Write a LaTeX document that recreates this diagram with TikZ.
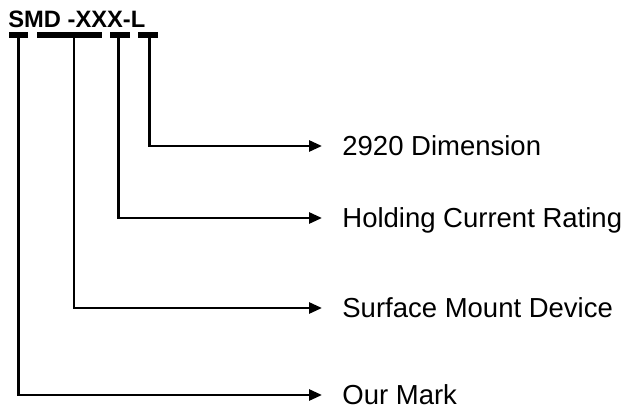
\documentclass[tikz,border=0pt]{standalone}
\usepackage{fontspec}
\setmainfont{Liberation Sans}
\usetikzlibrary{arrows.meta, positioning}

\begin{document}
\begin{tikzpicture}[
    x=0.5pt, y=-0.5pt,
    segmento/.style={rectangle, fill=black, inner sep=0pt, minimum height=2.9pt},
    rotulo/.style={anchor=west, inner sep=0pt, font=\fontsize{13.75}{16}\selectfont, text height=9.85pt, text depth=0pt},
    guia/.style={-{Triangle[length=6.5pt, width=5.5pt]}, line width=1.35pt, shorten >=10pt}
]
\useasboundingbox (0,0) rectangle (627,407);

\node (codigo) [anchor=base west, inner sep=0pt, font=\bfseries\fontsize{11.85}{14}\selectfont] at (8,27) {SMD -XXX-L};

\node (seg1) [segmento, minimum width=9.5pt] at (18.5,35) {};
\node (seg2) [segmento, minimum width=32.5pt] at (69.5,35) {};
\node (seg3) [segmento, minimum width=10pt] at (119.5,35) {};
\node (seg4) [segmento, minimum width=10pt] at (147.5,35) {};

\node (rot1) [rotulo] at (342,146) {2920 Dimension};
\node (rot2) [rotulo] at (342,218) {Holding Current Rating};
\node (rot3) [rotulo] at (342,308) {Surface Mount Device};
\node (rot4) [rotulo] at (342,395) {Our Mark};

\draw [guia] ([xshift=1pt]seg4.south) |- (rot1.west);
\draw [guia] ([xshift=-0.5pt]seg3.south) |- (rot2.west);
\draw [guia] ([xshift=2.25pt]seg2.south) |- (rot3.west);
\draw [guia] (seg1.south) |- (rot4.west);

\end{tikzpicture}
\end{document}
